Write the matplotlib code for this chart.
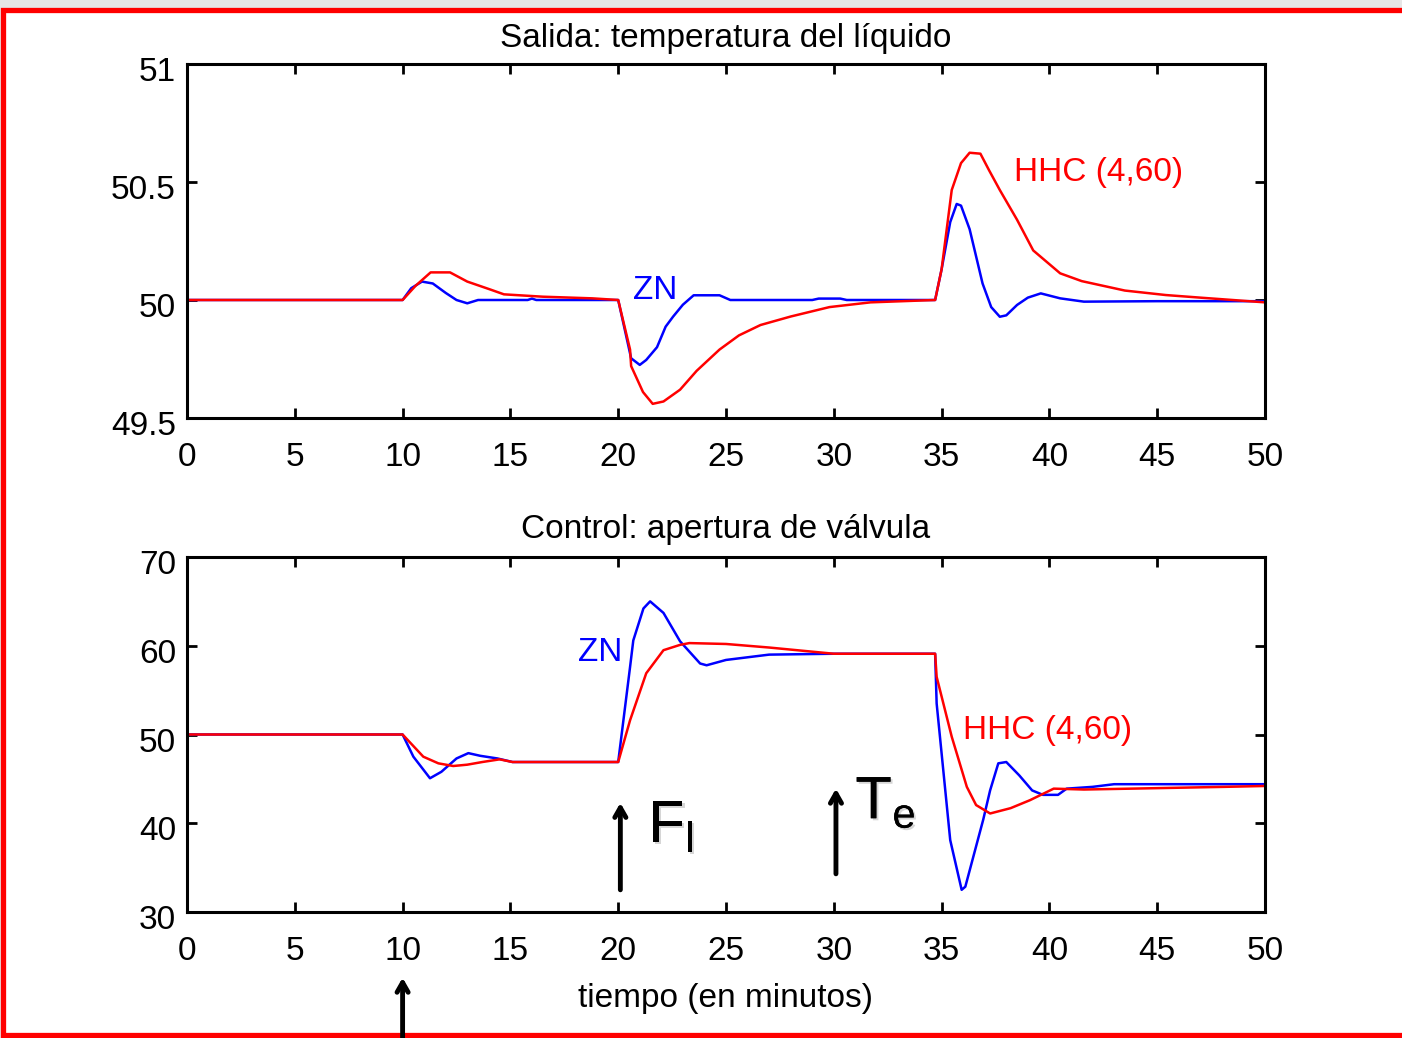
import matplotlib
matplotlib.use("Agg")
import matplotlib.pyplot as plt
from matplotlib.patches import Rectangle
from matplotlib.transforms import ScaledTranslation
import matplotlib.patheffects as pe

plt.rcParams['font.family'] = ['Liberation Sans', 'DejaVu Sans']
plt.rcParams['mathtext.fontset'] = 'custom'
plt.rcParams['mathtext.rm'] = 'Liberation Sans'

# --- salida: temperatura del liquido ---
top_zn_t = [0, 10, 10.4, 10.9, 11.4, 12.0, 12.5, 13.0, 13.5, 15.8, 16.0, 16.2, 20.0,
            20.6, 21.0, 21.3, 21.8, 22.2, 22.55, 23.0, 23.5, 24.7, 25.2, 29.0, 29.3,
            30.3, 30.6, 34.7, 35.0, 35.4, 35.7, 35.9, 36.3, 36.9, 37.3, 37.7, 38.0,
            38.5, 39.0, 39.6, 40.5, 41.6, 45.0, 50]
top_zn_v = [50.0, 50.0, 50.05, 50.078, 50.07, 50.03, 50.0, 49.986, 50.0, 50.0, 50.006, 50.0, 50.0,
            49.753, 49.725, 49.746, 49.80, 49.887, 49.93, 49.98, 50.02, 50.02, 50.0, 50.0, 50.006,
            50.006, 50.0, 50.0, 50.13, 50.33, 50.407, 50.40, 50.30, 50.07, 49.97, 49.929, 49.935,
            49.979, 50.01, 50.028, 50.007, 49.993, 49.995, 49.995]

top_hhc_t = [0, 10, 10.6, 11.3, 12.2, 13.0, 14.05, 14.7, 16.5, 18.8, 20.0,
             20.55, 20.6, 21.15, 21.6, 22.1, 22.87, 23.64, 24.7, 25.6, 26.6, 28.0, 29.8,
             31.7, 34.7, 35.0, 35.47, 35.9, 36.3, 36.8, 37.2, 37.7, 38.5, 39.25, 40.5,
             41.5, 42.3, 43.5, 45.4, 47.0, 48.5, 50]
top_hhc_v = [50.0, 50.0, 50.06, 50.117, 50.117, 50.078, 50.045, 50.024, 50.014, 50.007, 50.0,
             49.79, 49.72, 49.61, 49.56, 49.57, 49.62, 49.70, 49.79, 49.85, 49.894, 49.93, 49.97,
             49.99, 50.0, 50.13, 50.466, 50.58, 50.624, 50.62, 50.55, 50.466, 50.34, 50.21, 50.113,
             50.08, 50.064, 50.04, 50.021, 50.01, 50.0, 49.99]

# --- control: apertura de valvula ---
bot_zn_t = [0, 10, 10.5, 11.27, 11.8, 12.5, 13.05, 13.6, 14.4, 15.1, 20.0,
            20.55, 20.7, 21.17, 21.48, 22.1, 22.87, 23.8, 24.1, 25.0, 27.0, 30.0, 34.7,
            34.77, 35.4, 35.93, 36.1, 36.93, 37.25, 37.63, 38.0, 38.6, 39.2, 39.7, 40.4,
            40.8, 42.0, 43.0, 50]
bot_zn_v = [50.0, 50.0, 47.5, 45.07, 45.8, 47.3, 47.9, 47.6, 47.3, 46.9, 46.9,
            57.6, 60.6, 64.2, 65.0, 63.7, 60.5, 58.0, 57.8, 58.4, 59.0, 59.1, 59.1,
            53.5, 38.1, 32.5, 32.85, 40.4, 43.7, 46.75, 46.9, 45.4, 43.7, 43.2, 43.2,
            43.9, 44.1, 44.4, 44.4]

bot_hhc_t = [0, 10, 10.96, 11.66, 12.35, 13.0, 13.7, 14.5, 15.1, 20.0,
             20.55, 21.3, 22.1, 22.87, 23.3, 25.0, 27.0, 30.0, 34.7,
             34.77, 35.47, 36.17, 36.6, 37.25, 38.2, 39.1, 40.2, 41.6, 43.8, 48.1, 50]
bot_hhc_v = [50.0, 50.0, 47.5, 46.75, 46.45, 46.6, 46.9, 47.2, 46.9, 46.9,
             51.6, 56.9, 59.5, 60.1, 60.3, 60.2, 59.8, 59.1, 59.1,
             56.5, 49.75, 44.1, 42.05, 41.1, 41.7, 42.6, 43.9, 43.8, 43.9, 44.1, 44.2]

x_ticks = [0, 5, 10, 15, 20, 25, 30, 35, 40, 45, 50]
top_yticks = [49.5, 50, 50.5, 51]
top_ylabels = ['49.5', '50', '50.5', '51']
bot_yticks = [30, 40, 50, 60, 70]

blue = '#0000ff'
red = '#ff0000'
fs = 24

fig = plt.figure(figsize=(14.02, 10.38), dpi=100)
fig.patch.set_facecolor('#e6e6e6')
fig.patches.append(Rectangle((3 / 1402, 3 / 1038), 1.05, 1 - 13 / 1038,
                             transform=fig.transFigure, facecolor='white',
                             edgecolor=red, linewidth=3.8, zorder=-5))

ax1 = fig.add_axes([187 / 1402, 1 - 418 / 1038, (1265 - 187) / 1402, (418 - 64) / 1038])
ax2 = fig.add_axes([187 / 1402, 1 - 912 / 1038, (1265 - 187) / 1402, (912 - 557) / 1038])

for ax in (ax1, ax2):
    ax.set_zorder(1)
    ax.set_xlim(0, 50)
    ax.set_xticks(x_ticks)
    ax.tick_params(direction='in', length=7, width=2, top=True, right=True,
                   labelsize=fs, pad=8)
    ax.tick_params(axis='x', pad=17)
    for s in ax.spines.values():
        s.set_linewidth(2.2)

ax1.plot(top_zn_t, top_zn_v, color=blue, lw=1.8)
ax1.plot(top_hhc_t, top_hhc_v, color=red, lw=1.8)
ax1.set_ylim(49.5, 51)
ax1.set_yticks(top_yticks)
ax1.set_yticklabels(top_ylabels)
ax1.text(0.5, 1.072, 'Salida: temperatura del líquido', transform=ax1.transAxes,
         ha='center', va='center', fontsize=fs)
ax1.text(21.7, 50.04, 'ZN', color=blue, fontsize=fs, ha='center', va='center')
ax1.text(42.3, 50.54, 'HHC (4,60)', color=red, fontsize=fs, ha='center', va='center')

ax2.plot(bot_zn_t, bot_zn_v, color=blue, lw=1.8)
ax2.plot(bot_hhc_t, bot_hhc_v, color=red, lw=1.8)
ax2.set_ylim(30, 70)
ax2.set_yticks(bot_yticks)
ax2.text(0.5, 1.078, 'Control: apertura de válvula', transform=ax2.transAxes,
         ha='center', va='center', fontsize=fs)
ax2.text(0.5, -0.245, 'tiempo (en minutos)', transform=ax2.transAxes,
         ha='center', va='center', fontsize=fs)
ax2.text(19.15, 59.2, 'ZN', color=blue, fontsize=fs, ha='center', va='center')
ax2.text(39.9, 50.5, 'HHC (4,60)', color=red, fontsize=fs, ha='center', va='center')

# y tick labels sit a little below their ticks in the original
shift = ScaledTranslation(0, -5 / 100, fig.dpi_scale_trans)
for ax in (ax1, ax2):
    for lbl in ax.get_yticklabels():
        lbl.set_transform(lbl.get_transform() + shift)

# disturbance arrows
arrow = dict(arrowstyle='->, head_length=0.7, head_width=0.4', lw=3.5, color='black',
             shrinkA=0, shrinkB=0)
ax2.annotate('', xy=(20.1, 42.3), xytext=(20.1, 32.5), arrowprops=arrow, annotation_clip=False)
ax2.annotate('', xy=(30.1, 43.9), xytext=(30.1, 34.3), arrowprops=arrow, annotation_clip=False)
ax2.annotate('', xy=(10.0, 22.6), xytext=(10.0, 15.0), arrowprops=arrow, annotation_clip=False)

shadow = [pe.withSimplePatchShadow(offset=(1.5, -1.5), shadow_rgbFace='#999999', alpha=0.4),
          pe.Normal()]
ax2.text(21.4, 36.5, r'$\mathregular{F_l}$', fontsize=43, ha='left', va='bottom',
         path_effects=shadow)
ax2.text(31.0, 39.2, r'$\mathregular{T_e}$', fontsize=43, ha='left', va='bottom',
         path_effects=shadow)

fig.savefig('out.png', dpi=100, facecolor=fig.get_facecolor())
